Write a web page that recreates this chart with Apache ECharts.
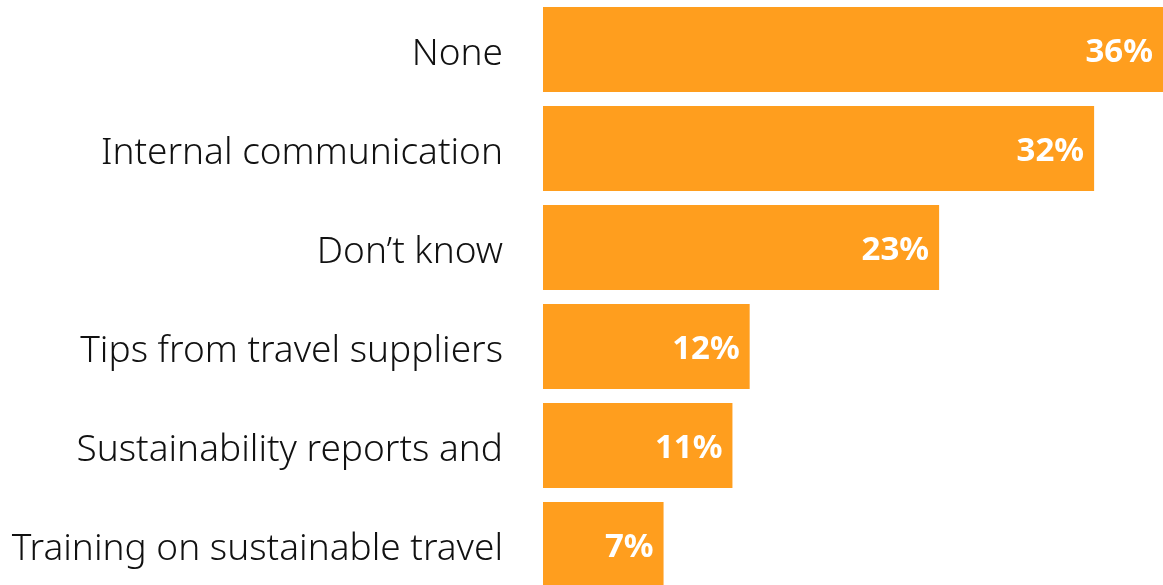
<!DOCTYPE html>
<html>
<head>
<meta charset="utf-8">
<script src="https://cdn.jsdelivr.net/npm/echarts@6/dist/echarts.min.js"></script>
<style>
  html, body { margin: 0; padding: 0; background: #fff; }
  #chart { width: 1163px; height: 585px; }
</style>
</head>
<body>
<div id="chart"></div>
<script>
// Share of respondents by source (%), top to bottom
const categories = [
  'None',
  'Internal communication',
  'Don\u2019t know',
  'Tips from travel suppliers',
  'Sustainability reports and',
  'Training on sustainable travel'
];
const values = [36, 32, 23, 12, 11, 7];

const chart = echarts.init(document.getElementById('chart'));
chart.setOption({
  animation: false,
  grid: { left: 543, right: 0, top: 0, height: 594, outerBoundsMode: 'none' },
  xAxis: {
    type: 'value',
    min: 0,
    max: 36,
    show: false
  },
  yAxis: {
    type: 'category',
    data: categories,
    inverse: true,
    axisLine: { show: false },
    axisTick: { show: false },
    axisLabel: {
      margin: 40,
      formatter: '{t|{value}}',
      rich: {
        t: {
          color: '#111',
          fontFamily: 'Noto Sans',
          fontSize: 37,
          fontWeight: 300,
          padding: [10, 0, 0, 0]
        }
      }
    }
  },
  series: [{
    type: 'bar',
    data: values,
    barCategoryGap: '14%',
    itemStyle: { color: '#FF9E1E' },
    label: {
      show: true,
      position: 'insideRight',
      distance: 10,
      formatter: '{v|{c}%}',
      rich: {
        v: {
          color: '#fff',
          fontFamily: 'Noto Sans',
          fontWeight: 'bold',
          fontSize: 33,
          padding: [6, 0, 0, 0]
        }
      }
    }
  }]
});
</script>
</body>
</html>
